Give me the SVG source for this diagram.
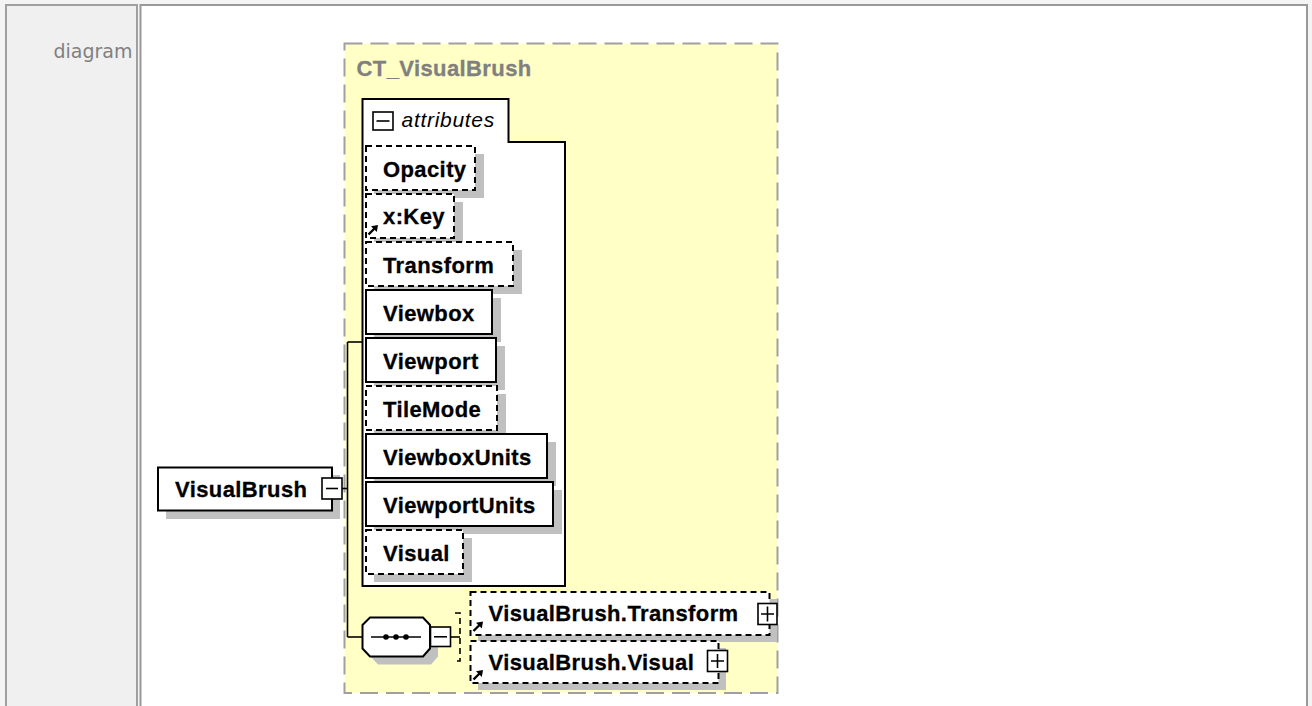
<svg xmlns="http://www.w3.org/2000/svg" xmlns:xlink="http://www.w3.org/1999/xlink" width="1312" height="706" viewBox="0 0 1312 706">
<defs>
<style>
.lbl{font-family:"Liberation Sans",Arial,sans-serif;font-weight:bold;font-size:22px;letter-spacing:0.4px;fill:#000;stroke:#000;stroke-width:0.3px}
.ital{font-family:"Liberation Sans",Arial,sans-serif;font-style:italic;font-size:21px;letter-spacing:0.7px;fill:#000}
.box{fill:#fff;stroke:#000;stroke-width:2}
.dash{stroke-dasharray:6 4}
.shadow{fill:#c0c0c0}
.pm{fill:#fff;stroke:#000;stroke-width:1.6}
.ln{stroke:#000;stroke-width:1.6;fill:none}
</style>
<g id="refArrow">
<path d="M0.5,9.5 L6.5,3.5" stroke="#000" stroke-width="2.4" fill="none"/>
<polygon points="10,0 3,1.2 8.8,7" fill="#000"/>
</g>
</defs>

<rect x="0" y="0" width="1312" height="706" fill="#f4f4f4"/>
<g id="frame">
<rect x="6" y="5" width="131" height="720" fill="#f0f0f0" stroke="#a0a0a0" stroke-width="2"/>
<rect x="140.5" y="5" width="1166.5" height="720" fill="#fff" stroke="#999" stroke-width="2"/>
<text x="132.5" y="57.5" text-anchor="end" font-family="'DejaVu Sans',Verdana,sans-serif" font-size="19" fill="#808080">diagram</text>
</g>

<g id="CT_VisualBrush">
<rect x="344.5" y="43.5" width="433" height="649.5" fill="#ffffc6" stroke="#a0a0a0" stroke-width="2" stroke-dasharray="18 8"/>
<text class="lbl" x="356.5" y="76" style="fill:#808080;stroke:#808080">CT_VisualBrush</text>
</g>

<g id="connectors">
<path class="ln" d="M342,488.5 H347.5"/>
<path class="ln" d="M347.5,342 V637"/>
<path class="ln" d="M347.5,342 H362"/>
<path class="ln" d="M347.5,637 H362"/>
<path class="ln" d="M450.5,637 H460"/>
<path class="ln dash" d="M455,613 H460 V661 H455"/>
</g>

<g id="VisualBrush">
<rect class="shadow" x="166" y="475" width="174" height="44"/>
<rect class="box" x="158" y="467.5" width="174" height="43"/>
<text class="lbl" x="175" y="497">VisualBrush</text>
<rect class="pm" x="322" y="478" width="20" height="21"/>
<path class="ln" d="M326,488.5 H338"/>
</g>

<g id="attributes">
<path d="M362.5,99 H508.5 V142 H565 V586 H362.5 Z" fill="#fff" stroke="#000" stroke-width="2"/>
<rect class="pm" x="373" y="112" width="20" height="18"/>
<path class="ln" d="M376.5,121 H389.5"/>
<text class="ital" x="401.5" y="127">attributes</text>
</g>

<g id="attr-Opacity">
<rect class="shadow" x="374" y="154" width="110" height="44"/>
<rect class="box dash" x="366" y="146" width="109" height="44"/>
<text class="lbl" x="383" y="176.5">Opacity</text>
</g>
<g id="attr-xKey">
<rect class="shadow" x="374" y="202" width="89" height="44"/>
<rect class="box dash" x="366" y="194" width="88" height="44"/>
<text class="lbl" x="383" y="224">x:Key</text>
<use xlink:href="#refArrow" x="368" y="225"/>
</g>
<g id="attr-Transform">
<rect class="shadow" x="374" y="250" width="148" height="44"/>
<rect class="box dash" x="366" y="242" width="147" height="44"/>
<text class="lbl" x="383" y="272.5">Transform</text>
</g>
<g id="attr-Viewbox">
<rect class="shadow" x="374" y="298" width="127" height="44"/>
<rect class="box" x="366" y="290" width="126" height="44"/>
<text class="lbl" x="383" y="320.5">Viewbox</text>
</g>
<g id="attr-Viewport">
<rect class="shadow" x="374" y="346" width="131" height="44"/>
<rect class="box" x="366" y="338" width="130" height="44"/>
<text class="lbl" x="383" y="368.5">Viewport</text>
</g>
<g id="attr-TileMode">
<rect class="shadow" x="374" y="394" width="132" height="44"/>
<rect class="box dash" x="366" y="386" width="131" height="44"/>
<text class="lbl" x="383" y="416.5">TileMode</text>
</g>
<g id="attr-ViewboxUnits">
<rect class="shadow" x="374" y="442" width="182" height="44"/>
<rect class="box" x="366" y="434" width="181" height="44"/>
<text class="lbl" x="383" y="464.5">ViewboxUnits</text>
</g>
<g id="attr-ViewportUnits">
<rect class="shadow" x="374" y="490" width="188" height="44"/>
<rect class="box" x="366" y="482" width="187" height="44"/>
<text class="lbl" x="383" y="512.5">ViewportUnits</text>
</g>
<g id="attr-Visual">
<rect class="shadow" x="374" y="538" width="98" height="44"/>
<rect class="box dash" x="366" y="530" width="97" height="44"/>
<text class="lbl" x="383" y="560.5">Visual</text>
</g>

<g id="sequence">
<polygon class="shadow" points="378,625.5 431,625.5 438,633 438,656.5 431,664.5 378,664.5 370.5,656.5 370.5,633"/>
<polygon class="box" points="370,617.5 423,617.5 430,625 430,648.5 423,656.5 370,656.5 362.5,648.5 362.5,625"/>
<path class="ln" d="M371,637 H421"/>
<circle cx="386" cy="637" r="2.8"/>
<circle cx="396" cy="637" r="2.8"/>
<circle cx="406" cy="637" r="2.8"/>
<rect class="pm" x="430.5" y="627" width="20" height="19.5"/>
<path class="ln" d="M434,636.8 H447"/>
</g>

<g id="VisualBrush.Transform">
<rect class="shadow" x="478" y="599" width="299" height="43"/>
<rect class="box dash" x="470.5" y="592" width="299" height="43"/>
<text class="lbl" x="488.5" y="620.5">VisualBrush.Transform</text>
<use xlink:href="#refArrow" x="473" y="621.5"/>
<rect class="pm" x="758" y="603.5" width="19" height="21"/>
<path class="ln" d="M761,614 H774 M767.5,606.5 V621.5"/>
</g>

<g id="VisualBrush.Visual">
<rect class="shadow" x="478" y="648" width="248" height="42"/>
<rect class="box dash" x="470.5" y="641" width="248" height="42"/>
<text class="lbl" x="488.5" y="669.5">VisualBrush.Visual</text>
<use xlink:href="#refArrow" x="473" y="670"/>
<rect class="pm" x="707.5" y="650.5" width="20" height="21"/>
<path class="ln" d="M711,661 H724 M717.5,654 V668"/>
</g>
</svg>
